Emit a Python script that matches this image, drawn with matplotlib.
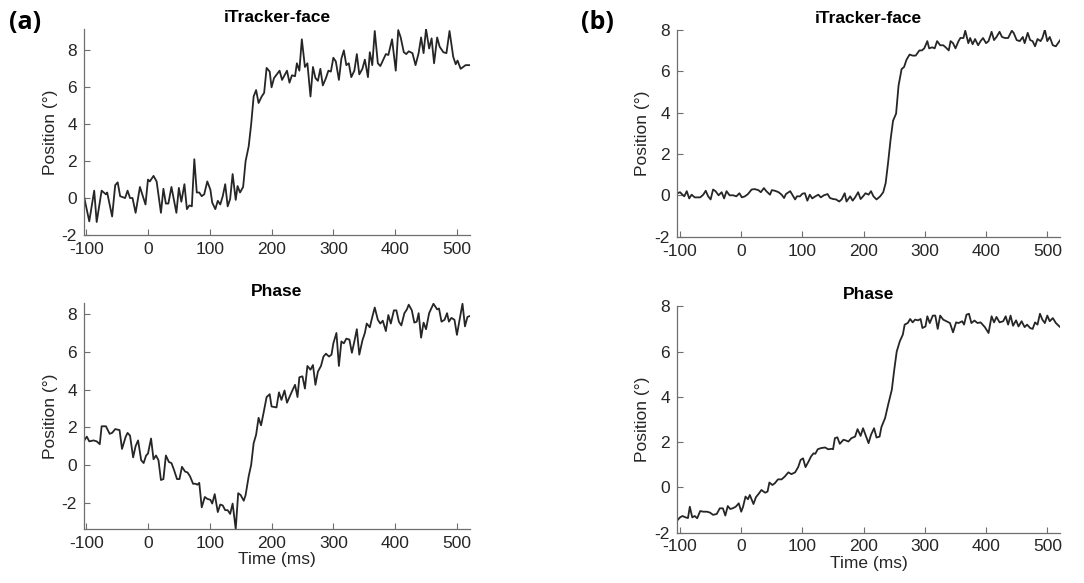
import matplotlib
matplotlib.use("Agg")
import matplotlib.pyplot as plt

# (a) iTracker-face
t_a_face = [-103, -95, -87, -83, -75, -68, -66, -58, -53, -49, -45, -37, -33, -29, -25, -20,
            -13, -4, 0, 3, 9, 14, 21, 25, 29, 33, 38, 46, 50, 54, 59, 63, 67, 71, 75, 79,
            83, 87, 91, 96, 101, 104, 109, 113, 117, 121, 125, 129, 133, 137, 142, 145, 149,
            154, 158, 163, 167, 171, 175, 179, 184, 188, 192, 197, 200, 204, 213, 217, 225,
            229, 233, 238, 241, 245, 249, 254, 258, 263, 267, 271, 275, 279, 283, 288, 292,
            296, 300, 304, 309, 313, 317, 321, 325, 329, 334, 338, 342, 347, 351, 356, 359,
            363, 367, 372, 376, 385, 389, 395, 401, 405, 409, 414, 418, 422, 428, 433, 438,
            442, 446, 450, 455, 459, 463, 468, 472, 478, 483, 488, 494, 498, 501, 506, 514, 521]
y_a_face = [0.0, -1.26, 0.4, -1.3, 0.4, 0.2, 0.3, -1.0, 0.7, 0.85, 0.1, 0.0, 0.4, 0.0, 0.0, -0.8,
            0.6, -0.35, 1.0, 0.9, 1.2, 0.9, -0.8, 0.5, -0.3, -0.3, 0.6, -0.8, 0.55, -0.2, 0.75,
            -0.6, -0.4, -0.45, 2.1, 0.3, 0.3, 0.1, 0.2, 0.9, 0.45, -0.25, -0.6, -0.15, -0.35,
            0.1, 0.75, -0.45, -0.05, 1.3, -0.1, 0.65, 0.3, 0.6, 2.0, 2.8, 4.0, 5.5, 5.85, 5.15,
            5.5, 5.7, 7.05, 6.85, 6.0, 6.5, 6.9, 6.4, 6.9, 6.25, 6.65, 6.6, 7.3, 6.9, 8.6, 7.1,
            7.3, 5.5, 7.1, 6.5, 6.35, 7.0, 6.1, 6.5, 6.9, 6.85, 7.6, 7.4, 6.4, 7.55, 8.0, 7.2,
            7.3, 6.55, 6.9, 7.8, 6.7, 7.0, 7.5, 6.55, 7.9, 7.2, 9.05, 7.3, 7.15, 7.8, 7.75, 8.6,
            6.9, 9.1, 8.7, 7.9, 7.8, 7.95, 7.85, 7.2, 7.85, 8.7, 7.85, 9.15, 8.1, 8.65, 7.3, 8.7,
            8.2, 7.9, 7.85, 9.05, 7.65, 7.25, 7.45, 7.0, 7.2, 7.2]

# (a) Phase
t_a_phase = [-103, -99, -95, -88, -83, -78, -75, -68, -62, -58, -53, -46, -42, -36, -33, -29,
             -24, -20, -16, -11, -7, -3, 0, 5, 9, 13, 17, 21, 25, 29, 34, 38, 42, 47, 51, 55,
             60, 64, 68, 73, 77, 80, 83, 87, 92, 96, 101, 104, 108, 113, 117, 121, 125, 129,
             133, 137, 142, 146, 150, 155, 158, 163, 167, 171, 175, 179, 183, 187, 192, 197,
             200, 208, 212, 216, 221, 225, 229, 233, 238, 242, 245, 250, 254, 258, 263, 267,
             271, 275, 280, 284, 288, 293, 297, 300, 305, 309, 313, 317, 321, 326, 330, 334,
             338, 342, 347, 351, 354, 359, 363, 367, 372, 376, 380, 385, 389, 393, 398, 402,
             406, 410, 415, 419, 422, 427, 431, 435, 438, 442, 446, 450, 455, 462, 468, 471,
             475, 480, 484, 487, 491, 496, 500, 504, 509, 513, 517, 521]
y_a_phase = [1.3, 1.5, 1.25, 1.3, 1.25, 1.1, 2.05, 2.05, 1.65, 1.7, 1.9, 1.85, 0.85, 1.5, 1.7,
             1.55, 0.4, 1.0, 1.3, 0.25, 0.1, 0.5, 0.6, 1.4, 0.3, 0.5, 0.25, -0.8, -0.75, 0.5,
             0.15, 0.1, -0.25, -0.75, -0.75, -0.1, -0.35, -0.4, -0.6, -1.0, -1.0, -1.05, -0.95,
             -2.25, -1.7, -1.8, -1.85, -2.05, -1.55, -2.5, -2.1, -2.15, -2.4, -2.4, -2.6, -2.05,
             -3.4, -1.5, -1.6, -1.9, -1.6, -0.6, 0.0, 1.15, 1.6, 2.5, 2.1, 2.75, 3.6, 3.75, 3.1,
             3.05, 3.85, 3.45, 3.95, 3.3, 3.6, 3.9, 4.25, 3.6, 4.65, 4.7, 4.05, 5.25, 5.05, 5.3,
             4.25, 4.95, 5.25, 5.75, 5.9, 5.75, 5.85, 6.45, 7.0, 5.25, 6.55, 6.45, 6.7, 6.65,
             5.95, 6.55, 7.2, 5.85, 6.6, 7.0, 7.5, 7.3, 7.85, 8.35, 7.7, 7.5, 7.65, 7.1, 7.95,
             7.5, 8.2, 8.2, 7.6, 7.4, 8.05, 8.25, 8.5, 8.2, 7.55, 7.6, 8.05, 6.75, 7.55, 7.2,
             8.05, 8.55, 8.25, 8.3, 7.6, 7.7, 8.05, 7.6, 7.8, 7.7, 6.9, 7.65, 8.55, 7.35, 7.85, 7.9]

# (b) iTracker-face
t_b_face = [-104, -100, -96, -93, -89, -85, -81, -76, -67, -62, -58, -54, -50, -46, -42, -37,
            -32, -28, -24, -19, -13, -8, -3, 1, 6, 11, 17, 22, 28, 32, 37, 41, 47, 50, 55, 61,
            66, 70, 73, 80, 84, 88, 91, 96, 100, 104, 108, 112, 116, 121, 126, 130, 135, 141,
            145, 150, 155, 160, 164, 169, 172, 178, 182, 186, 191, 195, 199, 203, 208, 212, 216,
            221, 227, 232, 236, 240, 244, 248, 253, 257, 262, 266, 270, 275, 280, 285, 291, 295,
            299, 304, 307, 312, 316, 320, 325, 330, 334, 339, 342, 346, 350, 355, 358, 363, 366,
            371, 374, 378, 382, 387, 391, 395, 400, 404, 409, 413, 417, 422, 426, 431, 436, 442,
            445, 450, 455, 460, 463, 468, 472, 476, 480, 484, 489, 492, 496, 500, 504, 509, 514, 521]
y_b_face = [0.1, 0.15, 0.03, -0.05, 0.2, -0.15, 0.03, -0.1, -0.1, 0.03, 0.22, -0.05, -0.2, 0.28,
            0.2, 0.0, 0.15, -0.15, 0.2, 0.0, 0.0, -0.05, 0.1, -0.1, -0.05, 0.06, 0.28, 0.3, 0.25,
            0.15, 0.35, 0.2, 0.03, 0.25, 0.22, 0.15, 0.03, -0.13, 0.06, 0.2, 0.0, -0.2, -0.05,
            -0.05, 0.08, 0.1, -0.26, 0.03, -0.15, -0.05, 0.03, -0.1, 0.0, 0.06, -0.13, -0.18,
            -0.2, -0.3, -0.2, 0.1, -0.3, -0.05, -0.26, -0.1, 0.15, -0.18, -0.05, 0.1, 0.03, 0.2,
            -0.05, -0.2, -0.05, 0.15, 0.6, 1.6, 2.7, 3.6, 3.95, 5.3, 6.1, 6.2, 6.55, 6.8, 6.75,
            6.75, 7.0, 7.0, 7.1, 7.45, 7.1, 7.15, 7.1, 7.45, 7.25, 7.25, 7.15, 7.0, 7.45, 7.35,
            7.1, 7.45, 7.6, 7.6, 7.95, 7.35, 7.6, 7.3, 7.55, 7.25, 7.45, 7.6, 7.35, 7.45, 7.9,
            7.5, 7.65, 7.9, 7.65, 7.6, 7.6, 7.95, 7.85, 7.5, 7.45, 7.65, 7.35, 7.85, 7.5, 7.45,
            7.2, 7.55, 7.45, 7.6, 8.0, 7.45, 7.65, 7.25, 7.2, 7.5]

# (b) Phase
t_b_phase = [-104, -100, -96, -91, -87, -84, -80, -76, -72, -67, -62, -56, -51, -46, -40, -35,
             -30, -26, -22, -18, -14, -9, -4, 0, 3, 7, 11, 14, 20, 24, 29, 33, 39, 43, 46, 51,
             55, 60, 66, 71, 77, 82, 88, 93, 97, 101, 105, 110, 114, 118, 121, 125, 130, 137,
             142, 148, 150, 153, 157, 161, 167, 171, 175, 180, 186, 190, 195, 199, 204, 208, 212,
             217, 221, 226, 229, 235, 240, 246, 250, 254, 259, 264, 267, 272, 276, 280, 284, 289,
             293, 296, 301, 304, 308, 313, 317, 321, 325, 330, 335, 341, 346, 351, 355, 361, 364,
             368, 372, 376, 381, 386, 391, 398, 404, 409, 413, 417, 422, 428, 432, 436, 440, 444,
             449, 453, 458, 463, 467, 472, 476, 480, 484, 488, 492, 496, 500, 504, 509, 514, 521]
y_b_phase = [-1.45, -1.33, -1.27, -1.33, -1.36, -0.86, -1.33, -1.27, -1.37, -1.05, -1.08, -1.08,
             -1.12, -1.22, -1.18, -0.93, -0.93, -1.25, -0.83, -0.96, -0.93, -0.86, -0.71, -1.08,
             -0.86, -0.41, -0.53, -0.34, -0.74, -0.44, -0.27, -0.12, -0.24, -0.19, 0.21, 0.1,
             0.18, 0.35, 0.35, 0.47, 0.66, 0.58, 0.66, 0.89, 1.21, 1.28, 0.89, 1.14, 1.36, 1.5,
             1.48, 1.68, 1.73, 1.76, 1.68, 1.7, 1.68, 2.17, 2.21, 1.92, 2.1, 2.07, 2.02, 2.17,
             2.24, 2.57, 2.27, 2.61, 2.24, 1.95, 2.32, 2.61, 2.2, 2.24, 2.66, 3.06, 3.65, 4.31,
             5.2, 6.0, 6.45, 6.75, 7.19, 7.26, 7.44, 7.29, 7.41, 7.38, 7.44, 7.04, 7.11, 7.56,
             7.26, 7.59, 7.59, 7.0, 7.59, 7.41, 7.34, 7.26, 6.85, 7.29, 7.26, 7.34, 7.19, 7.63,
             7.67, 7.26, 7.37, 7.26, 7.29, 7.08, 6.82, 7.56, 7.29, 7.53, 7.29, 7.34, 7.56, 7.19,
             7.59, 7.14, 7.38, 7.11, 7.34, 7.08, 7.19, 7.04, 7.0, 7.29, 7.19, 7.67, 7.41, 7.26,
             7.59, 7.34, 7.48, 7.26, 7.08]

x_ticks = [-100, 0, 100, 200, 300, 400, 500]

plt.rcParams["font.family"] = "Liberation Sans"
plt.rcParams["axes.unicode_minus"] = False
text_col = "#262626"
axis_col = "#6e6e6e"

fig = plt.figure(figsize=(10.84, 5.83), dpi=100)


def panel(rect, t, y, title, xlim, ylim, xlabel=False):
    ax = fig.add_axes(rect)
    ax.plot(t, y, color="#262626", linewidth=1.3)
    ax.set_xlim(*xlim)
    ax.set_ylim(*ylim)
    ax.set_xticks(x_ticks)
    ax.set_yticks([v for v in range(-2, 9, 2) if ylim[0] <= v <= ylim[1] + 0.01])
    for side in ("top", "right"):
        ax.spines[side].set_visible(False)
    for side in ("left", "bottom"):
        ax.spines[side].set_color(axis_col)
        ax.spines[side].set_linewidth(0.9)
    ax.tick_params(direction="in", length=4, width=0.8, color=axis_col,
                   labelcolor=text_col, labelsize=12.5, pad=5)
    ax.set_title(title, fontsize=12.5, fontweight="bold", color="black", pad=5)
    ax.set_ylabel("Position (°)", fontsize=12.5, color=text_col, labelpad=3)
    if xlabel:
        ax.set_xlabel("Time (ms)", fontsize=12.5, color=text_col, labelpad=1)
    return ax


panel([0.0775, 0.597, 0.356, 0.353], t_a_face, y_a_face, "iTracker-face",
      (-103.5, 521), (-2, 9.15))
panel([0.0775, 0.0926, 0.356, 0.388], t_a_phase, y_a_phase, "Phase",
      (-103.5, 521), (-3.4, 8.6), xlabel=True)
panel([0.6245, 0.594, 0.3535, 0.355], t_b_face, y_b_face, "iTracker-face",
      (-105, 521), (-2, 8))
panel([0.6245, 0.0866, 0.3535, 0.388], t_b_phase, y_b_phase, "Phase",
      (-105, 521), (-2, 8), xlabel=True)

fig.text(0.023, 0.962, "(a)", fontsize=18, fontweight="bold", family="Open Sans",
         ha="center", va="center")
fig.text(0.551, 0.962, "(b)", fontsize=18, fontweight="bold", family="Open Sans",
         ha="center", va="center")

fig.savefig("out.png", dpi=100)
